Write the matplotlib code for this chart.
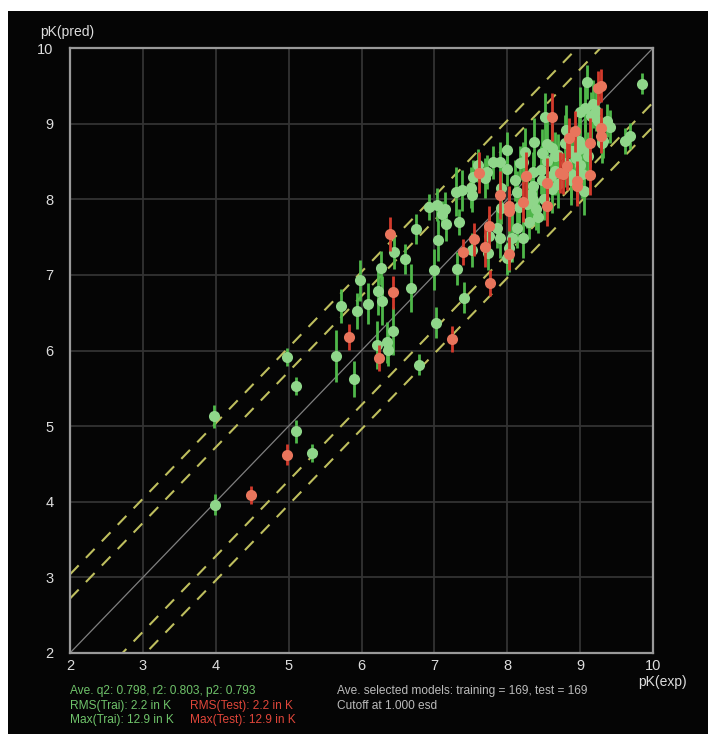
import matplotlib
matplotlib.use("Agg")
import matplotlib.pyplot as plt
from matplotlib.patches import Rectangle
import numpy as np

plt.rcParams['font.family'] = ['Liberation Sans', 'DejaVu Sans']

# training set: experimental pK, predicted pK, error bar half length
train_x = [3.98, 3.99, 5.10, 5.10, 5.32, 4.98, 5.65, 5.90, 5.72, 5.94,
           5.98, 6.09, 6.23, 6.28, 6.27, 6.45, 6.60, 6.68, 6.43, 6.35,
           6.21, 6.36, 6.79, 7.02, 7.00, 7.31, 7.40, 6.75, 7.05, 7.16,
           7.34, 7.51, 6.92, 7.03, 7.14, 7.10, 7.29, 7.38, 7.50, 7.51,
           7.53, 7.70, 7.72, 7.80, 7.90, 8.00, 8.00, 7.92, 8.14, 8.18,
           8.22, 8.35, 8.46, 8.33, 8.36, 8.35, 8.47, 8.60, 8.62, 7.92,
           8.16, 8.27, 8.40, 8.42, 7.86, 8.13, 8.06, 8.22, 7.90, 7.75,
           7.73, 8.02, 8.00, 8.37, 8.54, 8.61, 8.47, 8.66, 8.69, 8.79,
           8.88, 8.98, 9.07, 9.11, 9.32, 9.62, 9.69, 8.94, 8.80, 8.65,
           8.87, 9.02, 8.88, 9.06, 8.52, 9.09, 9.85, 9.18, 9.07, 9.00,
           9.22, 9.15, 9.25, 9.37, 9.41, 9.30, 8.99, 8.81, 8.92, 8.25,
           8.50, 8.30, 7.60, 8.10, 8.70, 9.00, 8.55]
train_y = [5.13, 3.96, 4.93, 5.53, 4.65, 5.91, 5.93, 5.62, 6.59, 6.52,
           6.93, 6.62, 6.79, 6.66, 7.09, 7.30, 7.21, 6.83, 6.26, 6.11,
           6.07, 6.01, 5.81, 6.37, 7.07, 7.08, 6.70, 7.61, 7.46, 7.67,
           7.70, 7.33, 7.90, 7.93, 7.87, 7.81, 8.10, 8.12, 8.15, 8.05,
           8.30, 8.28, 8.36, 8.49, 8.49, 8.65, 8.40, 8.15, 8.10, 8.48,
           8.49, 8.36, 8.39, 8.07, 7.99, 8.18, 8.26, 8.31, 8.14, 7.89,
           7.90, 7.94, 7.87, 7.77, 7.62, 7.62, 7.49, 7.49, 7.49, 7.52,
           7.29, 7.36, 7.22, 8.76, 8.73, 8.68, 8.61, 8.57, 8.59, 8.75,
           8.64, 8.67, 8.68, 8.57, 8.77, 8.77, 8.84, 8.55, 8.48, 8.38,
           8.34, 8.34, 8.25, 8.11, 9.09, 9.55, 9.53, 9.26, 9.21, 9.16,
           9.17, 9.10, 9.04, 9.04, 8.96, 8.75, 8.77, 8.92, 8.64, 8.62,
           8.00, 7.70, 8.45, 8.25, 8.20, 8.45, 8.50]
train_err = [0.15, 0.14, 0.15, 0.12, 0.12, 0.12, 0.34, 0.24, 0.22, 0.24,
             0.27, 0.27, 0.32, 0.32, 0.22, 0.22, 0.20, 0.32, 0.32, 0.27,
             0.32, 0.22, 0.14, 0.20, 0.27, 0.22, 0.20, 0.20, 0.27, 0.22,
             0.17, 0.22, 0.17, 0.22, 0.22, 0.17, 0.32, 0.27, 0.27, 0.22,
             0.22, 0.27, 0.22, 0.22, 0.27, 0.24, 0.22, 0.27, 0.27, 0.22,
             0.27, 0.27, 0.32, 0.32, 0.32, 0.32, 0.32, 0.22, 0.32, 0.22,
             0.22, 0.32, 0.27, 0.22, 0.27, 0.27, 0.32, 0.27, 0.27, 0.27,
             0.22, 0.32, 0.22, 0.32, 0.32, 0.32, 0.32, 0.32, 0.27, 0.37,
             0.32, 0.32, 0.32, 0.32, 0.22, 0.17, 0.17, 0.32, 0.32, 0.32,
             0.32, 0.32, 0.32, 0.32, 0.32, 0.22, 0.14, 0.32, 0.32, 0.32,
             0.27, 0.32, 0.32, 0.22, 0.22, 0.27, 0.32, 0.32, 0.32, 0.32,
             0.27, 0.22, 0.22, 0.27, 0.32, 0.32, 0.27]

# test set
test_x = [4.49, 4.98, 5.83, 6.24, 6.43, 6.39, 7.24, 7.39, 7.55, 7.61,
          7.75, 7.69, 8.02, 7.77, 7.90, 8.02, 8.02, 8.21, 8.26, 8.54,
          8.54, 8.62, 8.72, 8.76, 8.82, 9.13, 8.96, 8.96, 9.13, 9.24,
          9.28, 9.29, 9.28, 8.93, 8.85]
test_y = [4.09, 4.62, 6.18, 5.90, 6.77, 7.54, 6.15, 7.30, 7.47, 8.35,
          7.64, 7.37, 7.28, 6.89, 8.06, 7.91, 7.85, 7.97, 8.31, 8.22,
          7.91, 9.09, 8.35, 8.34, 8.44, 8.32, 8.24, 8.18, 8.75, 9.47,
          9.50, 8.94, 8.83, 8.90, 8.81]
test_err = [0.12, 0.14, 0.17, 0.17, 0.22, 0.22, 0.17, 0.17, 0.22, 0.27,
            0.27, 0.27, 0.22, 0.17, 0.32, 0.27, 0.27, 0.27, 0.32, 0.32,
            0.27, 0.32, 0.27, 0.27, 0.32, 0.27, 0.27, 0.27, 0.32, 0.22,
            0.22, 0.27, 0.22, 0.27, 0.27]

ticks = [2, 3, 4, 5, 6, 7, 8, 9, 10]
band_inner = 0.72
band_outer = 1.04

green = '#8fd68a'
dkgreen = '#4fb84a'
red = '#e8755c'
dkred = '#d33a2c'
fg = '#dddddd'

fig = plt.figure(figsize=(7.08, 7.36), dpi=100)
fig.patch.set_facecolor('white')
fig.patches.append(Rectangle((8/708, 2/736), 700/708, 723/736, transform=fig.transFigure,
                             facecolor='#050505', edgecolor='none', zorder=0))

ax = fig.add_axes([70/708, 1 - 653/736, 583/708, 605/736])
ax.set_zorder(2)
ax.set_facecolor('#050505')
ax.set_xlim(2, 10)
ax.set_ylim(2, 10)
ax.set_xticks(ticks)
ax.set_yticks(ticks)
ax.set_xticklabels([str(t) for t in ticks])
ax.set_yticklabels([str(t) for t in ticks])
ax.tick_params(length=0, colors=fg, labelsize=10.5)
ax.tick_params(axis='y', pad=12)
ax.tick_params(axis='x', pad=4)
ax.grid(True, color='#333333', lw=1.3)
ax.set_axisbelow(True)
for s in ax.spines.values():
    s.set_color('#9a9a9a')
    s.set_linewidth(1.6)

line = np.array([2, 10])
ax.plot(line, line, color='#808080', lw=0.9, zorder=2)
for off in (band_inner, band_outer, -band_inner, -band_outer):
    ax.plot(line, line + off, color='#bfbf5e', lw=1.5, dashes=(6, 5), zorder=2)

ax.errorbar(train_x, train_y, yerr=train_err, fmt='o', ms=8, mfc=green, mec='none',
            ecolor=dkgreen, elinewidth=2, capsize=0, zorder=3)
ax.errorbar(test_x, test_y, yerr=test_err, fmt='o', ms=8, mfc=red, mec='none',
            ecolor=dkred, elinewidth=2, capsize=0, zorder=4)

fig.text(40/708, 1 - 32/736, 'pK(pred)', color=fg, fontsize=10, va='center', zorder=5)
fig.text(638/708, 1 - 682/736, 'pK(exp)', color=fg, fontsize=10, va='center', zorder=5)

tgreen = '#6fc36a'
tred = '#e0463a'
fs = 8.6
fig.text(70/708, 1 - 691/736, 'Ave. q2: 0.798, r2: 0.803, p2: 0.793', color=tgreen, fontsize=fs, va='center', zorder=5)
fig.text(70/708, 1 - 706/736, 'RMS(Trai): 2.2 in K', color=tgreen, fontsize=fs, va='center', zorder=5)
fig.text(190/708, 1 - 706/736, 'RMS(Test): 2.2 in K', color=tred, fontsize=fs, va='center', zorder=5)
fig.text(70/708, 1 - 720/736, 'Max(Trai): 12.9 in K', color=tgreen, fontsize=fs, va='center', zorder=5)
fig.text(190/708, 1 - 720/736, 'Max(Test): 12.9 in K', color=tred, fontsize=fs, va='center', zorder=5)
fig.text(337/708, 1 - 691/736, 'Ave. selected models: training = 169, test = 169', color='#bbbbbb', fontsize=fs, va='center', zorder=5)
fig.text(337/708, 1 - 706/736, 'Cutoff at 1.000 esd', color='#bbbbbb', fontsize=fs, va='center', zorder=5)

fig.savefig('out.png', dpi=100, facecolor=fig.get_facecolor())
